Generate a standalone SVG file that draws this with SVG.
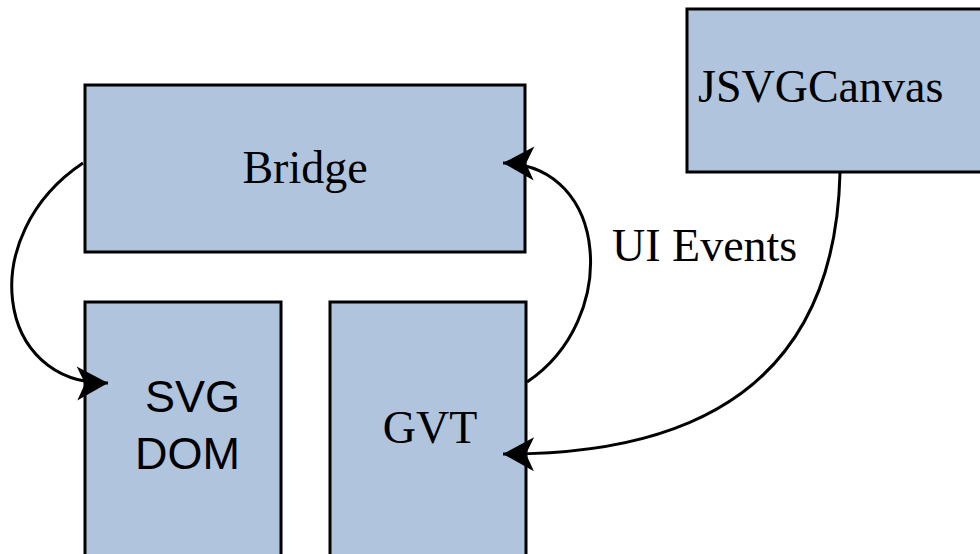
<svg xmlns="http://www.w3.org/2000/svg" width="980" height="554" viewBox="0 0 980 554">
<style>
.box{fill:#b0c4de;stroke:#000;stroke-width:3}
.serif{font-family:"Liberation Serif","Times New Roman",serif;font-size:46px;fill:#000}
.sans{font-family:"Liberation Sans",Arial,sans-serif;font-size:45px;fill:#000}
.conn{fill:none;stroke:#000;stroke-width:3}
</style>
<defs>
<marker id="arr" markerUnits="userSpaceOnUse" markerWidth="40" markerHeight="40" viewBox="-34 -20 40 40" refX="0" refY="0" orient="auto">
<path d="M0,0 L-31,-17 L-23,0 L-31,17 Z" fill="#000"/>
</marker>
</defs>
<rect width="980" height="554" fill="#fff"/>
<g id="bridge">
<rect class="box" x="85" y="85" width="440" height="167"/>
<text class="serif" x="305" y="183" text-anchor="middle">Bridge</text>
</g>
<g id="svgdom">
<rect class="box" x="85" y="302" width="196" height="270"/>
<text class="sans" x="240" y="412" text-anchor="end">SVG</text>
<text class="sans" x="240" y="469" text-anchor="end">DOM</text>
</g>
<g id="gvt">
<rect class="box" x="330" y="302" width="196" height="270"/>
<text class="serif" x="430" y="443" text-anchor="middle">GVT</text>
</g>
<g id="jsvgcanvas">
<rect class="box" x="687" y="9" width="310" height="163"/>
<text class="serif" x="698" y="102">JSVGCanvas</text>
</g>
<g id="connectors">
<path class="conn" d="M83,163 C-25,235 -5,385 108,383" marker-end="url(#arr)"/>
<path class="conn" d="M527,382 C620,320 610,165 503,163" marker-end="url(#arr)"/>
<path class="conn" d="M840,173 C835,380 700,455 503,454" marker-end="url(#arr)"/>
<text class="serif" x="612" y="261">UI Events</text>
</g>
</svg>
